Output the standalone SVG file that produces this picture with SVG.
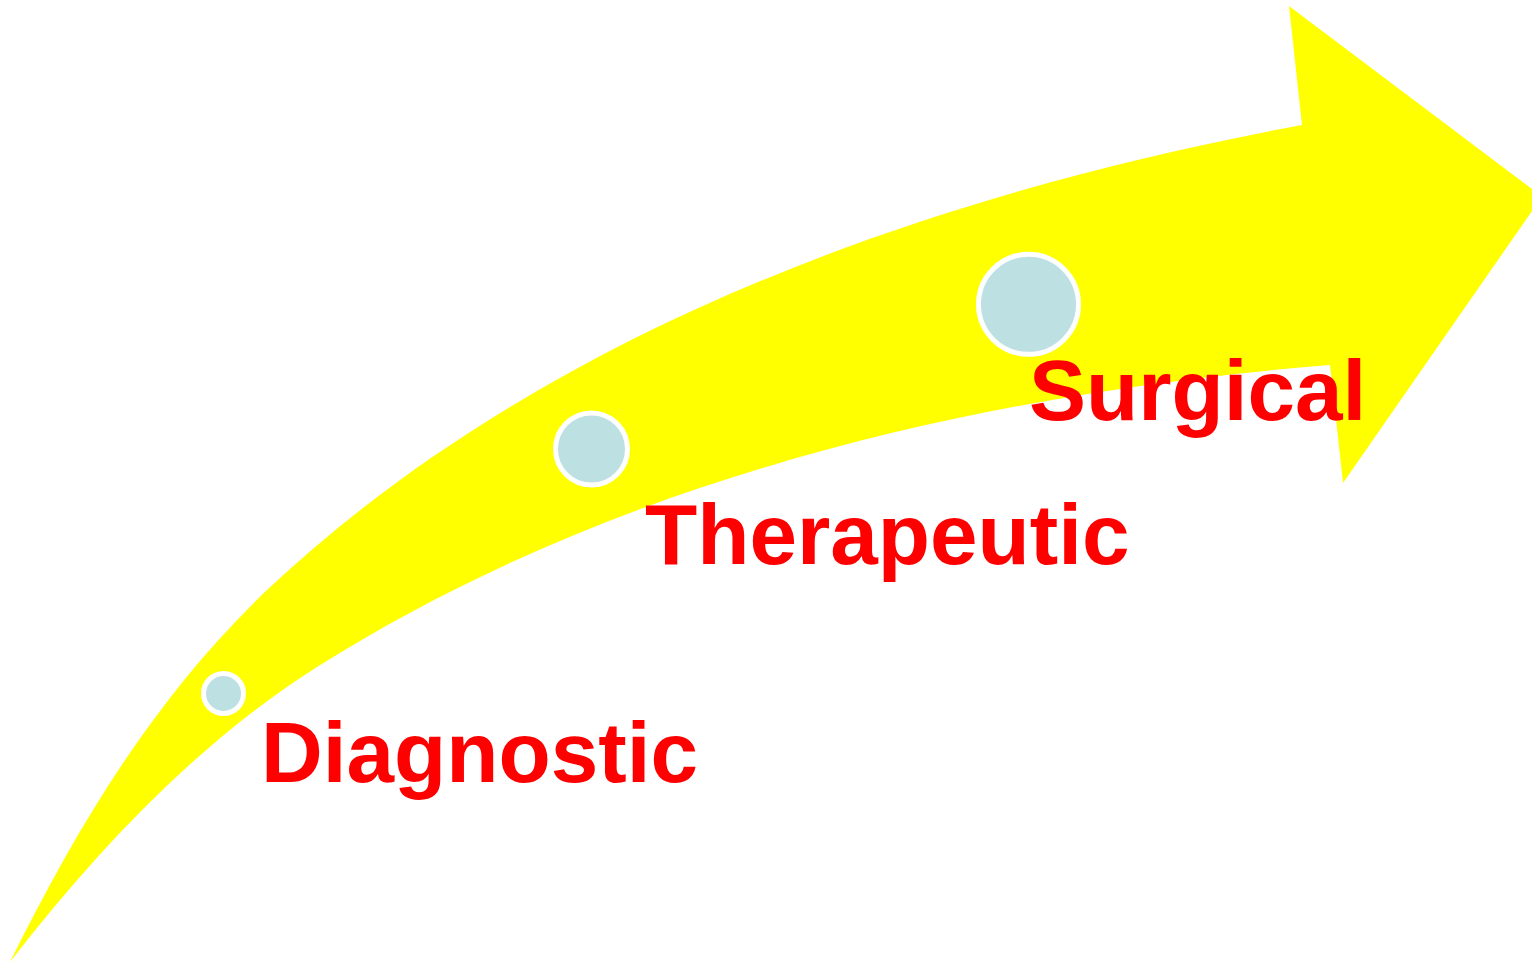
<svg xmlns="http://www.w3.org/2000/svg" width="1532" height="963" viewBox="0 0 1532 963">
<style>
.lbl{font-family:"Liberation Sans",Arial,sans-serif;font-weight:bold;font-size:85.5px;fill:#FF0000;}
.dot{fill:#BDE0E3;stroke:#FFFFFF;stroke-width:5;}
</style>
<rect x="0" y="0" width="1532" height="963" fill="#FFFFFF"/>
<g id="arrow">
<path fill="#FFFF00" d="M10,962 C79,823 155,697 267,590 C542,331 930,194 1302,125 L1289,6 L1532,189 L1532,211 L1343,483 L1330,365 C979,393 615,479 317,667 C197,743 97,850 10,962 Z"/>
</g>
<g id="connectors"></g>
<g id="node-diagnostic">
<circle class="dot" cx="223.5" cy="693.5" r="20"/>
<text class="lbl" x="261" y="782">Diagnostic</text>
</g>
<g id="node-therapeutic">
<circle class="dot" cx="591.5" cy="449" r="36"/>
<text class="lbl" x="645" y="564">Therapeutic</text>
</g>
<g id="node-surgical">
<circle class="dot" cx="1028.5" cy="304.3" r="50"/>
<text class="lbl" x="1029" y="420">Surgical</text>
</g>
</svg>
